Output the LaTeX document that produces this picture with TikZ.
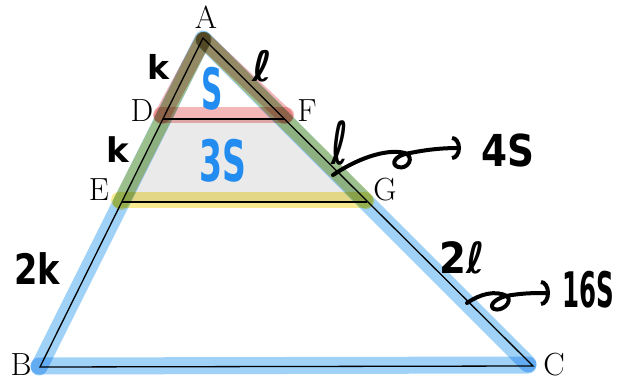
\documentclass[tikz,border=0pt]{standalone}
\usepackage{fontspec}
\usepackage{graphicx}
\newfontfamily\handfont{DejaVu Sans}
\usetikzlibrary{arrows.meta}
\definecolor{hlblue}{RGB}{160,210,248}
\definecolor{hlyellow}{RGB}{248,234,145}
\definecolor{hlred}{RGB}{243,183,183}
\definecolor{fillgray}{RGB}{234,234,234}
\definecolor{inkblue}{RGB}{35,140,240}
\begin{document}
\begin{tikzpicture}[x=1pt,y=-1pt,
  vlabel/.style={font=\fontsize{32}{34}\selectfont, inner sep=0pt},
  hand/.style={font=\handfont\bfseries\fontsize{#1}{#1}\selectfont, inner sep=0pt},
  hl/.style={line cap=round, blend mode=multiply},
  bluehl/.style={hl, hlblue, line width=17pt},
  yellowhl/.style={hl, hlyellow, line width=16pt},
  redhl/.style={hl, hlred, line width=16pt},
  ink/.style={line width=4pt, line cap=round, line join=round},
  edgeline/.style={line width=1.3pt, line join=miter}]
\useasboundingbox (0,0) rectangle (617,385);
% vertices
\coordinate (A) at (203,38);
\coordinate (B) at (40,367);
\coordinate (C) at (533,366);
\coordinate (D) at (163,119);
\coordinate (F) at (285,119);
\coordinate (E) at (122,202);
\coordinate (G) at (367,202);
% gray band
\fill[fillgray] (D) -- (F) -- (G) -- (E) -- cycle;
% highlighter strokes (each side drawn separately)
\draw[bluehl] (203,39) -- (39,367);
\draw[bluehl] (39,366) -- (528,365);
\draw[bluehl] (204,40) -- (528,364);
\draw[yellowhl] (203,40) -- (121,202);
\draw[yellowhl] (119,200) -- (365,200);
\draw[yellowhl] (366,201) -- (204,40);
\draw[redhl] (203,40) -- (162,116);
\draw[redhl] (161,115) -- (286,115);
\draw[redhl] (285,116) -- (204,40);
% black lines
\draw[edgeline] (A) -- (B) -- (C) -- cycle;
\draw[edgeline] (D) -- (F);
\draw[edgeline] (E) -- (G);
% vertex labels
\node[vlabel] (lA) at (206,17) {A};
\node[vlabel] (lB) at (21,365) {B};
\node[vlabel] (lC) at (554,365) {C};
\node[vlabel] (lD) at (142,111) {D};
\node[vlabel] (lE) at (99,190) {E};
\node[vlabel] (lF) at (307,111) {F};
\node[vlabel] (lG) at (385,190) {G};
% handwritten annotations
\node[hand=33] (k1) at (158,67) {k};
\node[hand=42] (l1) at (262,66) {ℓ};
\node[hand=57, text=inkblue] (s1) at (212,89) {\scalebox{0.52}[1]{S}};
\node[hand=34] (k2) at (118,150) {k};
\node[hand=57, text=inkblue] (s3) at (223,161) {\scalebox{0.58}[1]{3S}};
\node[hand=59] (l2) at (340,143) {\scalebox{0.6}[1]{ℓ}};
\node[hand=44] (t4s) at (508,150) {\scalebox{0.85}[1]{4S}};
\node[hand=42] (k3) at (37,269) {\scalebox{0.8}[1]{2k}};
\node[hand=43] (l3) at (462,258) {\scalebox{0.9}[1]{2ℓ}};
\node[hand=49] (t16s) at (588,290) {\scalebox{0.5}[1]{16S}};
% curly arrows
\coordinate (c1s) at (333,175);
\coordinate (c1e) at (461,148);
\draw[ink, -{Arc Barb[length=9pt, width=24pt]}] (c1s)
  .. controls (355,160) and (385,148) .. (405,153)
  .. controls (415,157) and (408,170) .. (398,167)
  .. controls (390,164) and (395,155) .. (410,153)
  .. controls (425,150) and (440,148) .. (c1e);
\coordinate (c2s) at (467,303);
\coordinate (c2e) at (550,293);
\draw[ink, -{Arc Barb[length=9pt, width=26pt]}] (c2s)
  .. controls (480,294) and (495,290) .. (507,296)
  .. controls (513,302) and (502,312) .. (494,309)
  .. controls (488,306) and (495,297) .. (512,295)
  .. controls (525,293) and (536,293) .. (c2e);
\end{tikzpicture}
\end{document}
